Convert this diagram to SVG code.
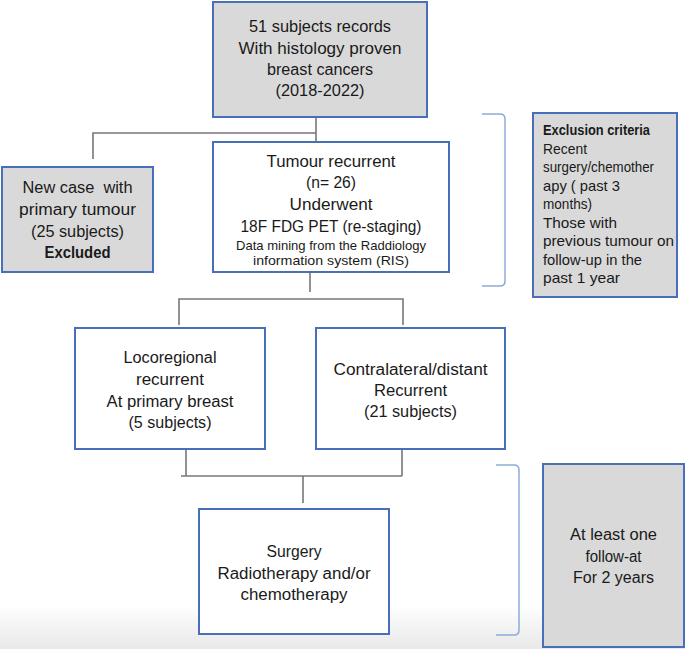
<svg xmlns="http://www.w3.org/2000/svg" width="685" height="649" viewBox="0 0 685 649">
<defs>
<style>
.box{stroke:#4a6fba;stroke-width:2;fill:#ffffff}
.gray{fill:#d9d9d9}
.t{font-family:"Liberation Sans",Arial,sans-serif;font-size:16px;fill:#1a1a1a;text-anchor:middle}
.s{font-size:13px}
.l{font-family:"Liberation Sans",Arial,sans-serif;font-size:14.5px;fill:#1a1a1a;text-anchor:start}
.b{font-weight:bold}
.conn{stroke:#777;stroke-width:1.6;fill:none}
.br{stroke:#8eaadb;stroke-width:1.5;fill:none}
</style>
<linearGradient id="shade" x1="0" y1="0" x2="0" y2="1">
<stop offset="0" stop-color="#ffffff"/>
<stop offset="1" stop-color="#e8e8e8"/>
</linearGradient>
</defs>
<rect x="0" y="0" width="685" height="649" fill="#ffffff"/>
<rect x="0" y="605" width="685" height="44" fill="url(#shade)"/>

<g id="connectors">
<path class="conn" d="M316 117 V142"/>
<path class="conn" d="M93 159 V133 H316"/>
<path class="conn" d="M310 272 V292"/>
<path class="conn" d="M179 325 V299 H403 V325"/>
<path class="conn" d="M186 449 V476"/>
<path class="conn" d="M402 449 V476"/>
<path class="conn" d="M181 476 H402"/>
<path class="conn" d="M303 476 V503"/>
<path class="br" d="M482 114 H500 Q505 114 505 119 V281 Q505 286 500 286 H482"/>
<path class="br" d="M496 465 H514 Q519 465 519 470 V630 Q519 635 514 635 H496"/>
</g>

<g id="n-records">
<rect class="box gray" x="213" y="2" width="214" height="115"/>
<text class="t" x="320" y="32" textLength="142" lengthAdjust="spacingAndGlyphs">51 subjects records</text>
<text class="t" x="320" y="54" textLength="163" lengthAdjust="spacingAndGlyphs">With histology proven</text>
<text class="t" x="320" y="75" textLength="106" lengthAdjust="spacingAndGlyphs">breast cancers</text>
<text class="t" x="320" y="96" textLength="89" lengthAdjust="spacingAndGlyphs">(2018-2022)</text>
</g>

<g id="n-newcase">
<rect class="box gray" x="2" y="167" width="151" height="105"/>
<text class="t" x="77.5" y="193" textLength="110" lengthAdjust="spacingAndGlyphs" xml:space="preserve">New case  with</text>
<text class="t" x="77.5" y="215" textLength="117" lengthAdjust="spacingAndGlyphs">primary tumour</text>
<text class="t" x="77.5" y="237" textLength="93" lengthAdjust="spacingAndGlyphs">(25 subjects)</text>
<text class="t b" x="77.5" y="258" textLength="66" lengthAdjust="spacingAndGlyphs">Excluded</text>
</g>

<g id="n-recurrent">
<rect class="box" x="213" y="142" width="236" height="130"/>
<text class="t" x="331" y="167" textLength="129" lengthAdjust="spacingAndGlyphs">Tumour recurrent</text>
<text class="t" x="331" y="188" textLength="50" lengthAdjust="spacingAndGlyphs">(n= 26)</text>
<text class="t" x="331" y="210" textLength="83" lengthAdjust="spacingAndGlyphs">Underwent</text>
<text class="t" x="331" y="232" textLength="181" lengthAdjust="spacingAndGlyphs">18F FDG PET (re-staging)</text>
<text class="t s" x="331" y="250" textLength="190" lengthAdjust="spacingAndGlyphs">Data mining from the Raddiology</text>
<text class="t s" x="331" y="265" textLength="156" lengthAdjust="spacingAndGlyphs">information system (RIS)</text>
</g>

<g id="n-exclusion">
<rect class="box gray" x="533" y="113" width="144" height="184"/>
<text class="l b" x="543" y="135" textLength="107" lengthAdjust="spacingAndGlyphs">Exclusion criteria</text>
<text class="l" x="543" y="153.5" textLength="44" lengthAdjust="spacingAndGlyphs">Recent</text>
<text class="l" x="543" y="172" textLength="111" lengthAdjust="spacingAndGlyphs">surgery/chemother</text>
<text class="l" x="543" y="190.5" textLength="77" lengthAdjust="spacingAndGlyphs">apy ( past 3</text>
<text class="l" x="543" y="209" textLength="49" lengthAdjust="spacingAndGlyphs">months)</text>
<text class="l" x="543" y="227.5" textLength="74" lengthAdjust="spacingAndGlyphs">Those with</text>
<text class="l" x="543" y="246" textLength="131" lengthAdjust="spacingAndGlyphs">previous tumour on</text>
<text class="l" x="543" y="264.5" textLength="99" lengthAdjust="spacingAndGlyphs">follow-up in the</text>
<text class="l" x="543" y="283" textLength="77" lengthAdjust="spacingAndGlyphs">past 1 year</text>
</g>

<g id="n-locoregional">
<rect class="box" x="75" y="328" width="190" height="121"/>
<text class="t" x="170" y="363" textLength="93" lengthAdjust="spacingAndGlyphs">Locoregional</text>
<text class="t" x="170" y="385" textLength="68" lengthAdjust="spacingAndGlyphs">recurrent</text>
<text class="t" x="170" y="407" textLength="127" lengthAdjust="spacingAndGlyphs">At primary breast</text>
<text class="t" x="170" y="428" textLength="83" lengthAdjust="spacingAndGlyphs">(5 subjects)</text>
</g>

<g id="n-contralateral">
<rect class="box" x="316" y="328" width="189" height="121"/>
<text class="t" x="410.5" y="375" textLength="154" lengthAdjust="spacingAndGlyphs">Contralateral/distant</text>
<text class="t" x="410.5" y="396" textLength="73" lengthAdjust="spacingAndGlyphs">Recurrent</text>
<text class="t" x="410.5" y="417" textLength="93" lengthAdjust="spacingAndGlyphs">(21 subjects)</text>
</g>

<g id="n-treatment">
<rect class="box" x="199" y="509" width="190" height="125"/>
<text class="t" x="294" y="557" textLength="55" lengthAdjust="spacingAndGlyphs">Surgery</text>
<text class="t" x="294" y="579" textLength="153" lengthAdjust="spacingAndGlyphs">Radiotherapy and/or</text>
<text class="t" x="294" y="600" textLength="107" lengthAdjust="spacingAndGlyphs">chemotherapy</text>
</g>

<g id="n-followup">
<rect class="box gray" x="543" y="464" width="141" height="183"/>
<text class="t" x="613.5" y="540" textLength="87" lengthAdjust="spacingAndGlyphs">At least one</text>
<text class="t" x="613.5" y="562" textLength="56" lengthAdjust="spacingAndGlyphs">follow-at</text>
<text class="t" x="613.5" y="583" textLength="81" lengthAdjust="spacingAndGlyphs">For 2 years</text>
</g>
</svg>
